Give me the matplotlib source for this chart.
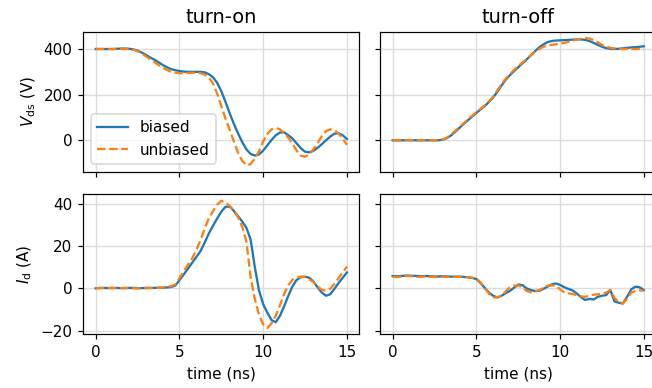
import numpy as np
import matplotlib
matplotlib.use("Agg")
import matplotlib.pyplot as plt

time_ns = np.arange(0, 15.001, 0.25)

vds_on_biased = [400, 400, 400, 400, 400, 401, 402, 402, 401, 398, 393, 384, 374, 363, 353, 342,
                 330, 320, 312, 307, 304, 301, 300, 300, 300, 300, 298, 290, 276, 252, 215, 168,
                 118, 72, 30, -8, -40, -60, -67, -62, -45, -22, 2, 22, 34, 35, 22, 8,
                 -14, -35, -50, -53, -46, -33, -17, 0, 16, 29, 31, 22, 6]
vds_on_unbiased = [400, 400, 400, 400, 400, 400, 400, 400, 400, 397, 390, 380, 368, 355, 343, 330,
                   318, 308, 300, 296, 294, 294, 295, 296, 296, 294, 288, 275, 250, 205, 150, 95,
                   45, -5, -55, -90, -109, -104, -80, -48, -5, 28, 48, 54, 48, 32, 12, -15,
                   -45, -68, -72, -62, -40, -12, 18, 40, 48, 44, 30, 8, -20]
vds_off_biased = [0, 0, 0, 0, 0, 0, 0, 0, 0, 0, 0, 0, 3, 10, 22, 38,
                  55, 72, 88, 104, 120, 135, 150, 168, 188, 212, 240, 265, 285, 303, 320, 337,
                  354, 372, 390, 407, 420, 430, 435, 437, 438, 439, 440, 441, 442, 442, 440, 435,
                  427, 418, 410, 404, 401, 400, 401, 403, 405, 407, 408, 410, 412]
vds_off_unbiased = [0, 0, 0, 1, 1, 1, 0, 0, 1, 1, 0, 0, 4, 12, 26, 42,
                    58, 75, 92, 108, 123, 138, 153, 170, 192, 218, 246, 270, 290, 308, 325, 341,
                    356, 372, 388, 400, 410, 415, 418, 421, 423, 427, 432, 437, 441, 445, 448, 446,
                    440, 430, 418, 410, 405, 402, 401, 400, 400, 400, 400, 400, 400]
id_on_biased = [0, 0.2, 0.2, 0.1, 0.2, 0.2, 0.1, 0.1, 0.2, 0.2, 0.1, 0.1, 0.2, 0.2, 0.2, 0.3,
                0.3, 0.4, 0.6, 1.3, 3.8, 6.5, 9.2, 12, 14.7, 17.5, 21.5, 25.8, 29.5, 33, 36.2, 38.5,
                38.6, 36.5, 34, 31.5, 28.5, 23, 10, -1, -7.5, -11.5, -15, -16, -13, -8.5, -3.5, 1,
                4, 5.3, 5.5, 5, 3.2, 0.5, -2, -3.5, -2.8, -0.3, 2.5, 5, 7.5]
id_on_unbiased = [0, 0.1, 0.1, 0.2, 0.1, 0.1, 0.1, 0.2, 0.1, 0, 0, 0.1, 0.1, 0.1, 0.1, 0.2,
                  0.4, 0.7, 1.0, 1.8, 4.8, 8, 11, 14, 18, 22.6, 28, 33, 36.5, 39.5, 41.3, 40.5,
                  38.9, 36.5, 33.5, 29, 22, 5.2, -5, -12.5, -17, -18.7, -16.5, -13, -8, -2.7, 1.5, 4,
                  5, 5.5, 5.3, 4.2, 3, 1, -0.8, -1, -0.2, 2, 4.8, 7.5, 10.3]
id_off_biased = [5.8, 5.7, 5.8, 6.0, 6.0, 5.9, 5.8, 5.7, 5.8, 5.7, 5.6, 5.6, 5.7, 5.6, 5.5, 5.5,
                 5.5, 5.4, 5.2, 4.9, 4.4, 2.5, 0.2, -2, -3.5, -4.3, -3.5, -2.3, -1.2, 0.3, 1.8, 1.5,
                 0, -0.8, -1.3, -1.2, -0.3, 0.8, 1.8, 2.3, 1.6, 0.5, -0.3, -1, -2.5, -4.2, -5.5, -5,
                 -5.3, -4, -3.5, -3.2, -0.8, -6.2, -6.8, -7.2, -4, -0.5, 0.8, 0.5, -0.8]
id_off_unbiased = [5.5, 5.3, 5.5, 5.8, 5.8, 5.6, 5.4, 5.5, 5.6, 5.4, 5.3, 5.4, 5.5, 5.4, 5.3, 5.4,
                   5.4, 5.3, 5.2, 5.0, 4.6, 2.8, 0.2, -2.5, -4.3, -4.2, -3.6, -1.5, 0.6, 1.2, 1.4, 0.5,
                   -1.2, -1.9, -1.4, -0.9, 0.2, 1.2, 1.4, 1.2, -0.5, -1.9, -2.3, -2.7, -3.2, -3.8, -4, -3.5,
                   -3, -2.8, -2.7, -2, -0.8, -4.5, -6.5, -7.1, -5, -2, -1.2, -1, -1.1]

titles = ["turn-on", "turn-off"]
ylabels = [r"$V_\mathrm{ds}$ (V)", r"$I_\mathrm{d}$ (A)"]
xlabel = "time (ns)"
labels = ["biased", "unbiased"]

DPI = 110
fig, axes = plt.subplots(2, 2, figsize=(652 / DPI, 388 / DPI), dpi=DPI, sharex=True, sharey="row")
fig.subplots_adjust(left=0.1276, right=1.0067, top=0.9183, bottom=0.1384, wspace=0.0746, hspace=0.164)

data = [[(vds_on_biased, vds_on_unbiased), (vds_off_biased, vds_off_unbiased)],
        [(id_on_biased, id_on_unbiased), (id_off_biased, id_off_unbiased)]]

for r in range(2):
    for c in range(2):
        ax = axes[r, c]
        b, u = data[r][c]
        ax.plot(time_ns, b, color="tab:blue", lw=1.5, label=labels[0])
        ax.plot(time_ns, u, color="tab:orange", lw=1.5, ls="--", label=labels[1])
        ax.grid(True, color="#dcdcdc", lw=0.9)
        ax.set_axisbelow(True)
        if r == 0:
            ax.set_title(titles[c], fontsize=12.7)
        else:
            ax.set_xlabel(xlabel)
        if c == 0:
            ax.set_ylabel(ylabels[r])

axes[0, 0].set_xticks([0, 5, 10, 15])
axes[0, 0].set_yticks([0, 200, 400])
axes[1, 0].set_yticks([-20, 0, 20, 40])
axes[0, 0].legend(loc="lower left")

fig.savefig("out.png", dpi=DPI)
